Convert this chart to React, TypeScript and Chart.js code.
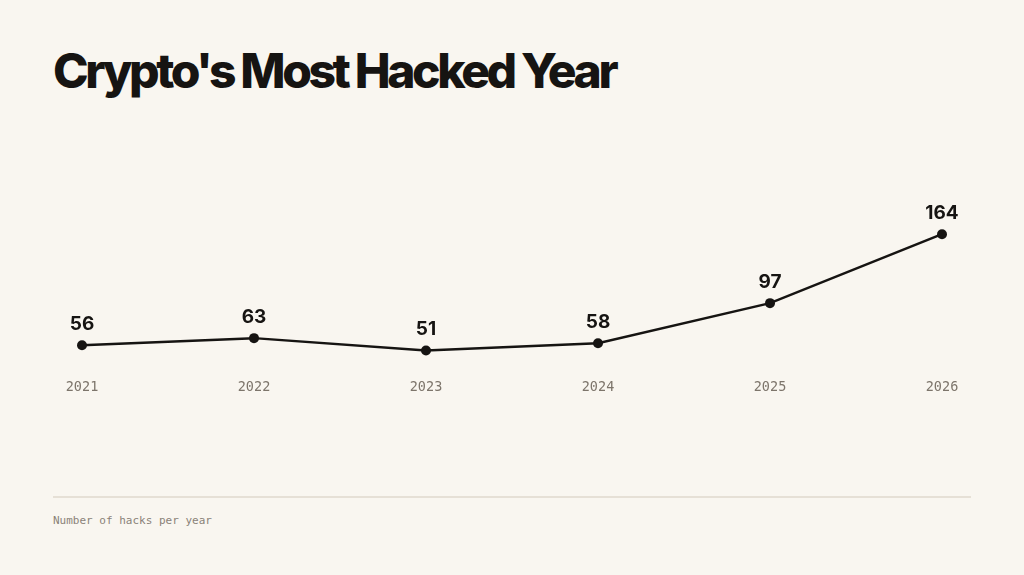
import { useEffect, useRef } from 'react'
import Chart from 'chart.js/auto'

// 연도별 해킹 건수
const years = ['2021', '2022', '2023', '2024', '2025', '2026']
const hacks = [56, 63, 51, 58, 97, 164]

const INK = '#161412'
const MUTED = '#7d756b'
const BG = '#f9f6f0'

export default function App() {
  const canvasRef = useRef<HTMLCanvasElement>(null)
  const chartRef = useRef<Chart | null>(null)

  useEffect(() => {
    document.body.style.margin = '0'
    if (!canvasRef.current) return
    chartRef.current?.destroy()

    // 점 위 값 라벨
    const valueLabels = {
      id: 'valueLabels',
      afterDatasetsDraw(c: any) {
        const meta = c.getDatasetMeta(0)
        const { ctx } = c
        ctx.save()
        ctx.fillStyle = INK
        ctx.font = '700 19px Inter, "Noto Sans", sans-serif'
        ctx.textAlign = 'center'
        ctx.textBaseline = 'middle'
        meta.data.forEach((pt: any, i: number) => {
          ctx.fillText(String(hacks[i]), pt.x, pt.y - 21)
        })
        ctx.restore()
      },
    }

    chartRef.current = new Chart(canvasRef.current, {
      type: 'line',
      data: {
        labels: years,
        datasets: [
          {
            data: hacks,
            borderColor: INK, borderWidth: 2.5,
            pointRadius: 5, pointBackgroundColor: INK, pointBorderWidth: 0,
            tension: 0, fill: false, clip: false as any,
          },
        ],
      },
      options: {
        animation: false,
        responsive: true, maintainAspectRatio: false,
        layout: { padding: { top: 78, bottom: 15, left: 82, right: 82 } },
        plugins: { legend: { display: false }, tooltip: { enabled: false } },
        scales: {
          x: {
            offset: false,
            grid: { display: false, drawTicks: false }, border: { display: false },
            ticks: {
              color: MUTED, padding: 18, maxRotation: 0, autoSkip: false,
              font: { family: '"DejaVu Sans Mono", monospace', size: 13.5 },
            },
          },
          y: {
            display: false, min: 40, max: 170,
          },
        },
      },
      plugins: [valueLabels],
    })

    return () => { chartRef.current?.destroy(); chartRef.current = null }
  }, [])

  return (
    <div style={{ position: 'fixed', inset: 0, width: 1024, height: 575, background: BG, overflow: 'hidden' }}>
      <div style={{
        position: 'absolute', left: 53, top: 47, fontFamily: 'Inter, "Noto Sans", sans-serif',
        fontWeight: 800, fontSize: 48, lineHeight: 1, letterSpacing: '-3.4px', color: INK, whiteSpace: 'nowrap',
      }}>
        Crypto's Most Hacked Year
      </div>
      <div style={{ position: 'absolute', left: 0, top: 150, width: 1024, height: 279 }}>
        <canvas ref={canvasRef} />
      </div>
      <div style={{ position: 'absolute', left: 53, top: 496, width: 918, height: 1.5, background: '#e6e0d6' }} />
      <div style={{
        position: 'absolute', left: 53, top: 513, fontFamily: '"DejaVu Sans Mono", monospace',
        fontSize: 11, lineHeight: '15px', color: '#8a8278', whiteSpace: 'nowrap',
      }}>
        Number of hacks per year
      </div>
    </div>
  )
}
